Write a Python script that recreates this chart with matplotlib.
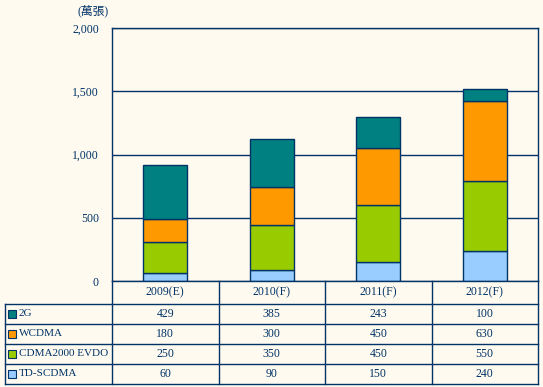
import numpy as np
import matplotlib.pyplot as plt
from matplotlib.patches import Rectangle
from matplotlib.lines import Line2D

# data
years = ['2009(E)', '2010(F)', '2011(F)', '2012(F)']
series_names = ['2G', 'WCDMA', 'CDMA2000 EVDO', 'TD-SCDMA']
v_2g = [429, 385, 243, 100]
v_wcdma = [180, 300, 450, 630]
v_cdma2000 = [250, 350, 450, 550]
v_tdscdma = [60, 90, 150, 240]
unit_label = '(萬張)'
yticks = [0, 500, 1000, 1500, 2000]

colors = {'2G': '#008080', 'WCDMA': '#FF9900',
          'CDMA2000 EVDO': '#99CC00', 'TD-SCDMA': '#99CCFF'}
navy = '#003366'
bg = '#FFFAF0'
font = ['Liberation Serif', 'Noto Sans CJK TC']

W, H = 543, 387
fig = plt.figure(figsize=(W / 100, H / 100), dpi=100, facecolor=bg)


def fx(x):
    return x / W


def fy(y):
    return 1 - y / H


left, right, top, bottom = 112, 538, 28, 281
ax = fig.add_axes([fx(left), fy(bottom), fx(right) - fx(left), fy(top) - fy(bottom)])
ax.set_facecolor(bg)

x = np.arange(len(years))
stack = [('TD-SCDMA', v_tdscdma), ('CDMA2000 EVDO', v_cdma2000),
         ('WCDMA', v_wcdma), ('2G', v_2g)]
base = np.zeros(len(years))
for name, vals in stack:
    ax.bar(x, vals, 0.41, bottom=base, color=colors[name],
           edgecolor=navy, linewidth=1.0, zorder=3)
    base += np.array(vals)

ax.set_xlim(-0.5, len(years) - 0.5)
ax.set_ylim(0, 2000)
ax.set_yticks(yticks)
ax.set_yticklabels([f'{v:,}' for v in yticks], fontfamily=font, fontsize=8.5, color=navy)
ax.tick_params(axis='y', length=0, pad=9.5)
ax.set_xticks([])
ax.grid(axis='y', color=navy, linewidth=1.0, zorder=0)
for s in ax.spines.values():
    s.set_color(navy)
    s.set_linewidth(1.0)
ax.spines['bottom'].set_visible(False)

fig.text(fx(93), fy(11), unit_label, ha='center', va='center',
         fontfamily=font, fontsize=8.5, color=navy)

# data table drawn below the axes
label_left = 5
col_w = (right - left) / len(years)
header_bottom = 304
row_h = 20
rows = [('2G', v_2g), ('WCDMA', v_wcdma), ('CDMA2000 EVDO', v_cdma2000), ('TD-SCDMA', v_tdscdma)]
table_bottom = header_bottom + row_h * len(rows)


def line(x0, y0, x1, y1):
    fig.add_artist(Line2D([fx(x0), fx(x1)], [fy(y0), fy(y1)], color=navy,
                          linewidth=1.0, transform=fig.transFigure))


# horizontal lines
line(left, bottom, right, bottom)
for i in range(len(rows) + 1):
    yy = header_bottom + i * row_h
    line(label_left, yy, right, yy)
# vertical lines
line(label_left, header_bottom, label_left, table_bottom)
for j in range(len(years) + 1):
    xx = left + j * col_w
    line(xx, bottom, xx, table_bottom)

for j, yr in enumerate(years):
    fig.text(fx(left + (j + 0.5) * col_w), fy((bottom + header_bottom) / 2), yr,
             ha='center', va='center', fontfamily=font, fontsize=8.5, color=navy)

for i, (name, vals) in enumerate(rows):
    yc = header_bottom + (i + 0.5) * row_h
    fig.add_artist(Rectangle((fx(8), fy(yc + 4)), fx(8), 8 / H, facecolor=colors[name],
                             edgecolor=navy, linewidth=0.8, transform=fig.transFigure))
    fig.text(fx(19), fy(yc), name, ha='left', va='center',
             fontfamily=font, fontsize=8, color=navy)
    for j, v in enumerate(vals):
        fig.text(fx(left + (j + 0.5) * col_w), fy(yc), str(v), ha='center', va='center',
                 fontfamily=font, fontsize=8.5, color=navy)

fig.savefig('out.png', dpi=100, facecolor=bg)
